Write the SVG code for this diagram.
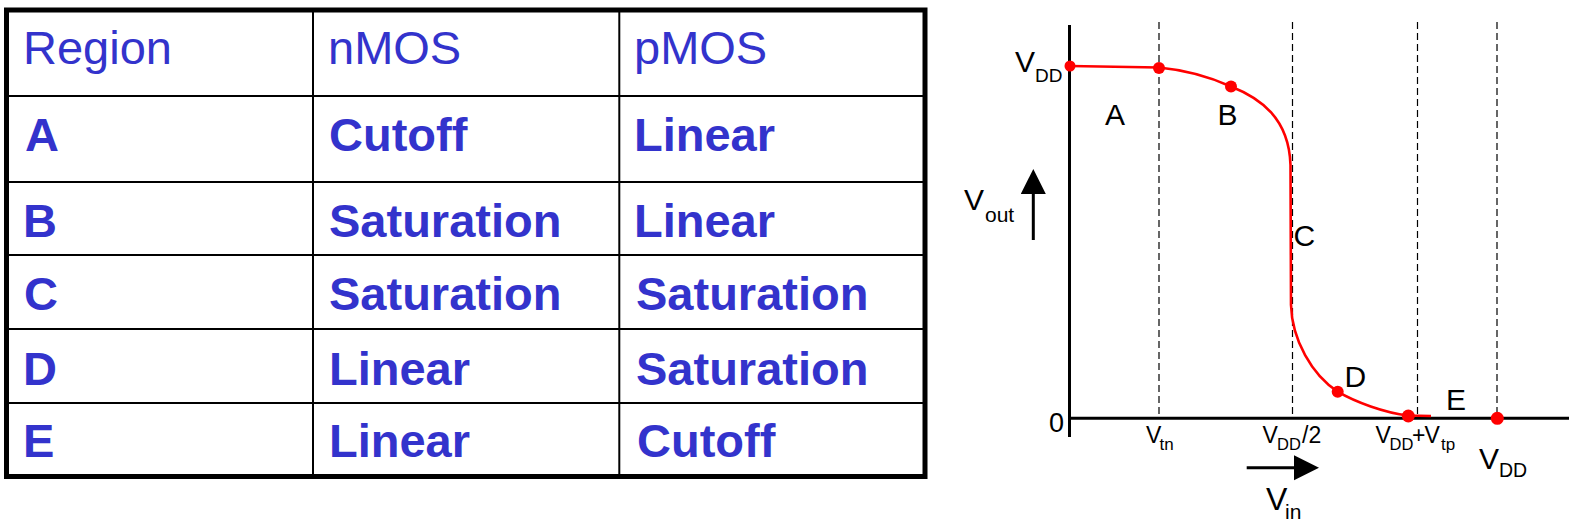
<svg xmlns="http://www.w3.org/2000/svg" width="1581" height="530" viewBox="0 0 1581 530">
<style>
  .cell { font-family: "Liberation Sans", Arial, sans-serif; font-size: 47px; fill: #3333cc; }
  .b { font-weight: bold; }
  .grid { stroke: #000; stroke-width: 2; fill: none; }
  .frame { stroke: #000; stroke-width: 5; fill: none; }
  .lbl { font-family: "Liberation Sans", Arial, sans-serif; fill: #000; }
  .dash { stroke: #000; stroke-width: 1.2; stroke-dasharray: 7,4; fill: none; }
  .axis { stroke: #000; stroke-width: 3; fill: none; }
  .curve { stroke: #ff0000; stroke-width: 2.6; fill: none; stroke-linejoin: round; }
  .pt { fill: #ff0000; }
  .arrow { stroke: #000; stroke-width: 3; fill: none; }
</style>
<defs>
  <marker id="head" markerUnits="userSpaceOnUse" markerWidth="26" markerHeight="26" refX="0" refY="12.5" orient="auto" viewBox="0 0 26 26">
    <path d="M0,0 L25,12.5 L0,25 Z" fill="#000"/>
  </marker>
</defs>
<rect width="1581" height="530" fill="#fff"/>

<g id="table">
  <g id="table-grid">
    <line class="grid" x1="6.5" y1="96" x2="925" y2="96"/>
    <line class="grid" x1="6.5" y1="182" x2="925" y2="182"/>
    <line class="grid" x1="6.5" y1="255" x2="925" y2="255"/>
    <line class="grid" x1="6.5" y1="329" x2="925" y2="329"/>
    <line class="grid" x1="6.5" y1="403" x2="925" y2="403"/>
    <line class="grid" x1="313" y1="10" x2="313" y2="476.5"/>
    <line class="grid" x1="619.3" y1="10" x2="619.3" y2="476.5"/>
    <rect class="frame" x="6.5" y="10" width="918.5" height="466.5"/>
  </g>
  <g id="row-header">
    <text class="cell" x="23" y="64">Region</text>
    <text class="cell" x="328" y="64">nMOS</text>
    <text class="cell" x="634" y="64">pMOS</text>
  </g>
  <g id="row-A">
    <text class="cell b" x="25" y="151">A</text>
    <text class="cell b" x="329" y="151">Cutoff</text>
    <text class="cell b" x="634" y="151">Linear</text>
  </g>
  <g id="row-B">
    <text class="cell b" x="23" y="237">B</text>
    <text class="cell b" x="329" y="237">Saturation</text>
    <text class="cell b" x="634" y="237">Linear</text>
  </g>
  <g id="row-C">
    <text class="cell b" x="24" y="310">C</text>
    <text class="cell b" x="329" y="310">Saturation</text>
    <text class="cell b" x="636" y="310">Saturation</text>
  </g>
  <g id="row-D">
    <text class="cell b" x="23" y="385">D</text>
    <text class="cell b" x="329" y="385">Linear</text>
    <text class="cell b" x="636" y="385">Saturation</text>
  </g>
  <g id="row-E">
    <text class="cell b" x="23" y="457">E</text>
    <text class="cell b" x="329" y="457">Linear</text>
    <text class="cell b" x="637" y="457">Cutoff</text>
  </g>
</g>

<g id="graph">
  <g id="guides">
    <line class="dash" x1="1159" y1="22" x2="1159" y2="418"/>
    <line class="dash" x1="1292.5" y1="22" x2="1292.5" y2="418"/>
    <line class="dash" x1="1417.5" y1="22" x2="1417.5" y2="418"/>
    <line class="dash" x1="1497" y1="22" x2="1497" y2="418"/>
  </g>
  <g id="axes">
    <line class="axis" x1="1069.5" y1="25" x2="1069.5" y2="437"/>
    <line class="axis" x1="1068" y1="418.3" x2="1569" y2="418.3"/>
  </g>
  <g id="transfer-curve">
    <path class="curve" d="M1070,66 L1159,67.5 C1185,70 1210,77 1231,86.5 C1260,98 1289,118 1290.5,165 L1291,305 C1292,340 1312,375 1337.7,391.7 C1355,402 1385,413 1408,415.5 L1431,416"/>
  </g>
  <g id="points">
    <circle class="pt" cx="1070" cy="66" r="5.5"/>
    <circle class="pt" cx="1159" cy="68" r="6"/>
    <circle class="pt" cx="1231" cy="86.5" r="6"/>
    <circle class="pt" cx="1337.7" cy="391.7" r="6"/>
    <circle class="pt" cx="1408.3" cy="416" r="6.5"/>
    <circle class="pt" cx="1497.3" cy="418.3" r="6.5"/>
  </g>
  <g id="region-labels" class="lbl" font-size="30">
    <text x="1105" y="125">A</text>
    <text x="1217.5" y="125">B</text>
    <text x="1293.5" y="246">C</text>
    <text x="1344.5" y="387">D</text>
    <text x="1446" y="410">E</text>
  </g>
  <g id="axis-labels" class="lbl">
    <text font-size="30"><tspan x="1015" y="72">V</tspan><tspan x="1035" y="82" font-size="19">DD</tspan></text>
    <text font-size="30"><tspan x="964" y="210">V</tspan><tspan x="985" y="222" font-size="21">out</tspan></text>
    <text font-size="27" x="1049" y="432">0</text>
    <text font-size="23"><tspan x="1146" y="443">V</tspan><tspan x="1159.5" y="450" font-size="17">tn</tspan></text>
    <text font-size="23"><tspan x="1262.5" y="443">V</tspan><tspan x="1277" y="450" font-size="16.5">DD</tspan><tspan x="1302" y="443">/2</tspan></text>
    <text font-size="23"><tspan x="1375.5" y="443">V</tspan><tspan x="1389.5" y="450" font-size="16.5">DD</tspan><tspan x="1412" y="443">+</tspan><tspan x="1424.5" y="443">V</tspan><tspan x="1441" y="450" font-size="17">tp</tspan></text>
    <text font-size="30"><tspan x="1479" y="468.5">V</tspan><tspan x="1499" y="477" font-size="19.5">DD</tspan></text>
    <text font-size="32"><tspan x="1266" y="510">V</tspan><tspan x="1285" y="518.5" font-size="21">in</tspan></text>
  </g>
</g>

<g id="connectors">
  <line class="arrow" x1="1033.3" y1="240" x2="1033.3" y2="194" marker-end="url(#head)"/>
  <line class="arrow" x1="1246.7" y1="467.7" x2="1294" y2="467.7" marker-end="url(#head)"/>
</g>
</svg>
